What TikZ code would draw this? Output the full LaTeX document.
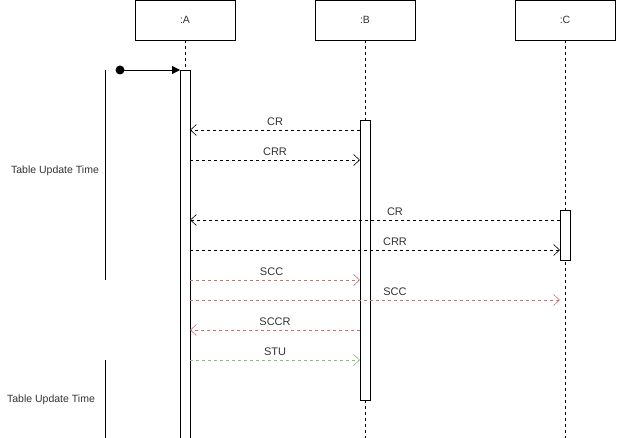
\documentclass[tikz,border=0pt]{standalone}
\usepackage{fontspec}
\setmainfont{Liberation Sans}
\usetikzlibrary{arrows.meta}
\definecolor{msgred}{HTML}{D07070}
\definecolor{msggreen}{HTML}{8BC070}
\definecolor{txt}{HTML}{333333}
\begin{document}
\begin{tikzpicture}[x=1pt,y=-1pt,
  every node/.style={font=\fontsize{10.5}{12}\selectfont, text=txt},
  actor/.style={draw=black, line width=0.8pt, minimum width=100pt, minimum height=40pt, inner sep=0pt},
  life/.style={draw=black, dashed, dash pattern=on 3pt off 3pt, line width=0.6pt},
  act/.style={draw=black, fill=white, line width=0.8pt},
  msg/.style={dash pattern=on 3pt off 3pt, line width=0.6pt, -{Straight Barb[length=6pt,width=11pt,line width=0.6pt]}},
  lbl/.style={above, inner sep=4.5pt, font=\fontsize{11}{13}\selectfont},
  bracket/.style={draw=black, line width=0.8pt}]
\useasboundingbox (0,0) rectangle (617,438);
% actors
\node[actor] (A) at (185,20) {:A};
\node[actor] (B) at (365,20) {:B};
\node[actor] (C) at (565,20) {:C};
% lifelines
\coordinate (Aend) at (185,438);
\coordinate (Bend) at (365,438);
\coordinate (Cend) at (565,438);
\draw[life] (A.south) -- (Aend);
\draw[life] (B.south) -- (Bend);
\draw[life] (C.south) -- (Cend);
% activations
\draw[act] (180,70) rectangle (190,440);
\draw[act] (360,120) rectangle (370,400);
\draw[act] (560,210) rectangle (570,260);
% initial message
\node[circle, fill=black, inner sep=0pt, minimum size=9pt] (start) at (120,70) {};
\coordinate (Astart) at (180,70);
\draw[line width=0.8pt, -{Triangle[length=8pt,width=8pt]}] (start.center) -- (Astart);
% brackets
\coordinate (b1t) at (105,70); \coordinate (b1b) at (105,280);
\coordinate (b2t) at (105,360); \coordinate (b2b) at (105,440);
\draw[bracket] (b1t) -- (b1b);
\draw[bracket] (b2t) -- (b2b);
\node (t1) at (55,171) {Table Update Time};
\node (t2) at (51,400) {Table Update Time};
% messages
\coordinate (a1) at (190,130); \coordinate (bb1) at (360,130);
\draw[msg] (bb1) -- node[lbl]{CR} (a1);
\coordinate (a2) at (190,160); \coordinate (bb2) at (360,160);
\draw[msg] (a2) -- node[lbl]{CRR} (bb2);
\coordinate (a3) at (190,220); \coordinate (c3) at (560,220);
\draw[msg] (c3) -- node[lbl, pos=0.446]{CR} (a3);
\coordinate (a4) at (190,250); \coordinate (c4) at (560,250);
\draw[msg] (a4) -- node[lbl, pos=0.554]{CRR} (c4);
\coordinate (a5) at (190,280); \coordinate (bb5) at (360,280);
\draw[msg, msgred] (a5) -- node[lbl, pos=0.48]{SCC} (bb5);
\coordinate (a6) at (190,300); \coordinate (c6) at (560,300);
\draw[msg, msgred] (a6) -- node[lbl, pos=0.554]{SCC} (c6);
\coordinate (a7) at (190,330); \coordinate (bb7) at (360,330);
\draw[msg, msgred] (bb7) -- node[lbl]{SCCR} (a7);
\coordinate (a8) at (190,360); \coordinate (bb8) at (360,360);
\draw[msg, msggreen] (a8) -- node[lbl]{STU} (bb8);
\end{tikzpicture}
\end{document}
